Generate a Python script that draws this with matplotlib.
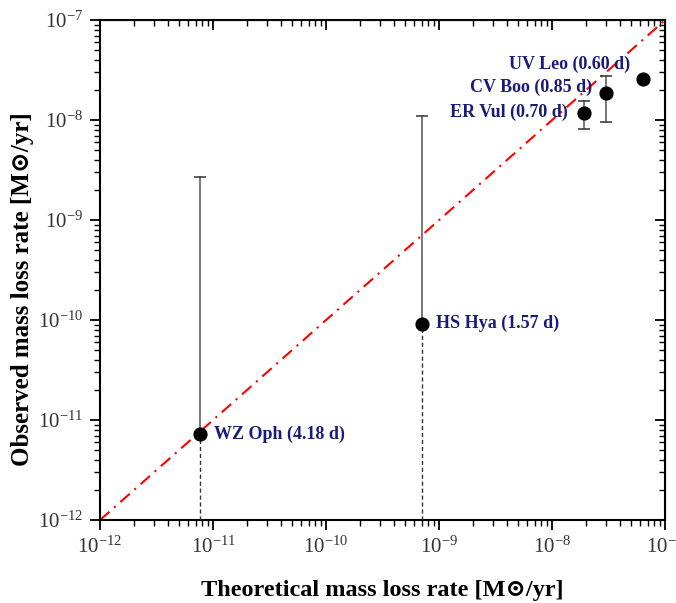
import numpy as np
import matplotlib
matplotlib.use("Agg")
import matplotlib.pyplot as plt
from matplotlib.ticker import LogLocator, FuncFormatter, NullFormatter

plt.rcParams["font.family"] = ["Liberation Serif", "DejaVu Serif"]
plt.rcParams["mathtext.fontset"] = "custom"
plt.rcParams["mathtext.rm"] = "Liberation Serif"
plt.rcParams["mathtext.it"] = "Liberation Serif:italic"
plt.rcParams["mathtext.bf"] = "Liberation Serif:bold"

# stars: theoretical vs observed mass loss rate
names = ["WZ Oph (4.18 d)", "HS Hya (1.57 d)", "ER Vul (0.70 d)", "CV Boo (0.85 d)", "UV Leo (0.60 d)"]
theo = [7.7e-12, 7.0e-10, 1.92e-8, 3.0e-8, 6.3e-8]
obs = [7.2e-12, 9.2e-11, 1.18e-8, 1.85e-8, 2.6e-8]
obs_hi = [2.7e-9, 1.1e-8, 1.55e-8, 2.75e-8, np.nan]
obs_lo = [np.nan, np.nan, 8.1e-9, 9.5e-9, np.nan]
lower_limit = [True, True, False, False, False]

fig = plt.figure(figsize=(6.76, 6.03), dpi=100)
ax = fig.add_axes([0.148, 0.1376, 0.836, 0.8292])
ax.set_xscale("log")
ax.set_yscale("log")
ax.set_xlim(1e-12, 1e-7)
ax.set_ylim(1e-12, 1e-7)

# one-to-one line
ax.plot([1e-12, 1e-7], [1e-12, 1e-7], color="red", lw=1.5, ls=(0, (6, 3, 1, 3)), zorder=2)

for i in range(len(names)):
    if not np.isnan(obs_hi[i]):
        lo = obs_lo[i] if not np.isnan(obs_lo[i]) else obs[i]
        ax.plot([theo[i], theo[i]], [lo, obs_hi[i]], color="#555555", lw=1.1, zorder=3)
        ax.plot([theo[i]], [obs_hi[i]], marker="_", ms=9, mew=1.1, color="#333333", zorder=3)
        if not np.isnan(obs_lo[i]):
            ax.plot([theo[i]], [lo], marker="_", ms=9, mew=1.1, color="#333333", zorder=3)
    if lower_limit[i]:
        ax.plot([theo[i], theo[i]], [1e-12, obs[i]], color="#333333", lw=1.0, ls=(0, (3, 2)), zorder=3)

ax.scatter(theo, obs, s=85, color="black", zorder=5)

lab_col = "#1a1a7a"
offsets = [(10, 0, "left"), (10, 0, "left"), (-12, 0, "right"), (-10, 4, "right"), (-9, 10, "right")]
for i, (dx, dy, ha) in enumerate(offsets):
    ax.annotate(names[i], (theo[i], obs[i]), xytext=(dx, dy), textcoords="offset points",
                ha=ha, va="center", color=lab_col, fontsize=13, fontweight="bold")

fmt = FuncFormatter(lambda v, p: r"$10^{%d}$" % round(np.log10(v)))
for axis in (ax.xaxis, ax.yaxis):
    axis.set_major_locator(LogLocator(base=10, numticks=10))
    axis.set_minor_locator(LogLocator(base=10, subs=np.arange(2, 10), numticks=20))
    axis.set_major_formatter(fmt)
    axis.set_minor_formatter(NullFormatter())

ax.tick_params(which="major", direction="out", length=7, width=1.3, labelsize=15,
               labelcolor="#333333", pad=5)
ax.tick_params(which="minor", direction="out", length=4, width=1.0)
for s in ax.spines.values():
    s.set_linewidth(1.5)

# inward ticks on top and right
secx = ax.secondary_xaxis("top")
secy = ax.secondary_yaxis("right")
secx.tick_params(which="major", direction="in", length=7, width=1.3, labeltop=False)
secx.tick_params(which="minor", direction="in", length=4, width=1.0)
secy.tick_params(which="major", direction="in", length=7, width=1.3, labelright=False)
secy.tick_params(which="minor", direction="in", length=4, width=1.0)

ax.set_xlabel("Theoretical mass loss rate [M\u2299/yr]", fontsize=17.5, fontweight="bold", labelpad=16)
ax.set_ylabel("Observed mass loss rate [M\u2299/yr]", fontsize=18, fontweight="bold")
ax.yaxis.set_label_coords(-0.117, 0.462)

fig.savefig("out.png", dpi=100)
